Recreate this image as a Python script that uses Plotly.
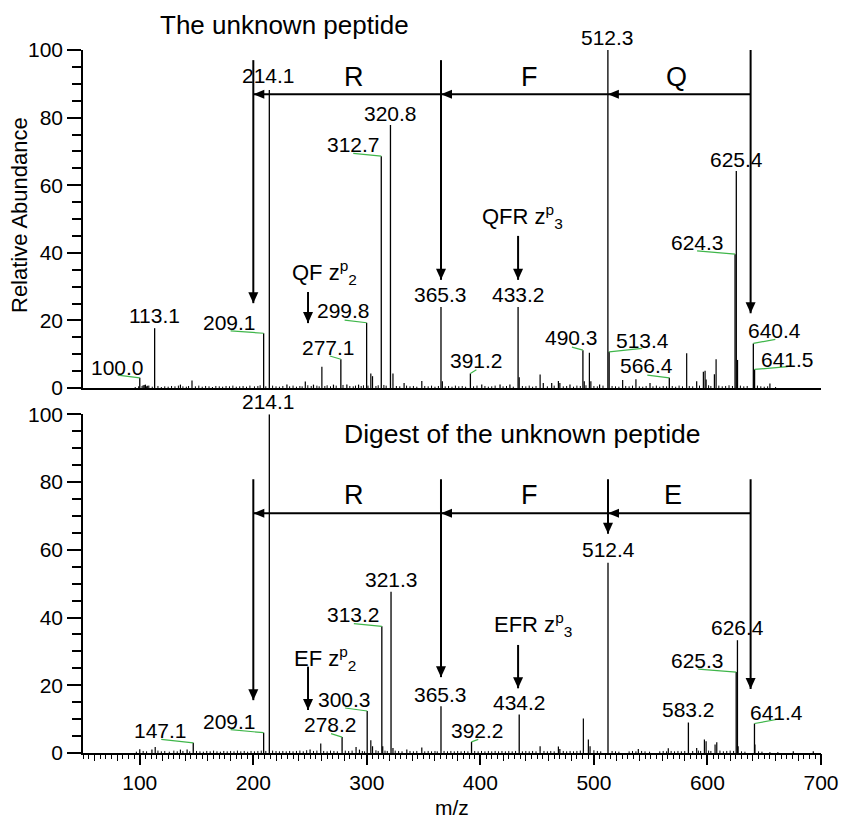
import plotly.graph_objects as go

# ---------------- data ----------------
# Top panel: "The unknown peptide"
top_label_mz = [100.0, 113.1, 209.1, 214.1, 277.1, 299.8, 312.7, 320.8, 365.3, 391.2,
                433.2, 490.3, 512.3, 513.4, 566.4, 624.3, 625.4, 640.4, 641.5]
top_label_int = [3.0, 17.7, 16.2, 88.2, 8.5, 19.3, 68.6, 77.8, 24.0, 4.3,
                 24.0, 11.2, 100.0, 10.7, 3.0, 39.6, 64.2, 13.2, 5.5]
top_label_text = ["100.0", "113.1", "209.1", "214.1", "277.1", "299.8", "312.7", "320.8", "365.3", "391.2",
                  "433.2", "490.3", "512.3", "513.4", "566.4", "624.3", "625.4", "640.4", "641.5"]

top_minor_mz = [103, 105, 107, 135.8, 146, 229.6, 245.8, 253, 260.4, 270.6, 282.4, 292.7,
                303.5, 305, 323, 332.8, 348.4, 366.5, 401.2, 417.3, 426, 434.2, 452.6, 455.4,
                462.8, 468.7, 470, 478.9, 491.5, 496, 497.3, 505, 525.3, 537, 549.4, 581.7,
                590.5, 596.4, 597.9, 598.8, 606.1, 607.6, 626.5, 655]
top_minor_int = [0.8, 1.0, 0.7, 1.0, 2.2, 1.0, 1.9, 1.0, 6.3, 1.0, 1.0, 1.0,
                 4.3, 3.5, 4.3, 1.5, 2.1, 2.0, 1.0, 1.0, 1.0, 3.2, 4.0, 1.5,
                 1.5, 2.1, 1.5, 1.0, 2.0, 10.4, 2.0, 1.0, 2.4, 2.6, 1.5, 10.3,
                 2.0, 4.8, 5.1, 2.5, 4.1, 8.5, 8.3, 1.3]

top_noise_mz = [96, 99, 102, 104, 106, 108, 111, 116, 119, 122, 125, 128, 131, 134, 138, 141, 143,
                149, 152, 155, 158, 161, 164, 167, 170, 173, 176, 179, 182, 185, 188, 191, 194, 197,
                201, 204, 206, 211, 217, 220, 223, 226, 232, 235, 238, 241, 243, 248, 251, 256, 258,
                263, 265, 268, 273, 279, 285, 288, 290, 295, 297, 301, 308, 310, 315, 317, 326, 329,
                335, 338, 341, 344, 351, 354, 357, 360, 363, 369, 372, 375, 378, 381, 384, 387, 394,
                397, 404, 407, 410, 413, 420, 423, 429, 437, 440, 443, 446, 449, 459, 465, 473, 476,
                482, 485, 488, 493, 500, 503, 508, 516, 519, 522, 528, 531, 534, 540, 543, 546, 552,
                555, 558, 561, 564, 569, 572, 575, 578, 584, 587, 593, 601, 603, 610, 613, 616, 619,
                622, 629, 632, 635, 644, 647, 650, 653, 660]
top_noise_int = [0.3, 0.5, 0.6, 0.9, 0.5, 0.7, 0.4, 0.6, 0.3, 0.5, 0.4, 0.6, 0.5, 0.7, 0.5, 0.4, 0.6,
                 0.5, 0.7, 0.4, 0.6, 0.5, 0.3, 0.6, 0.5, 0.4, 0.6, 0.5, 0.7, 0.4, 0.5, 0.6, 0.4, 0.7,
                 0.5, 0.6, 0.8, 0.5, 0.7, 0.5, 0.4, 0.6, 0.5, 0.7, 0.4, 0.6, 0.5, 0.8, 0.6, 0.7, 0.5,
                 0.6, 0.8, 0.5, 0.7, 0.9, 0.6, 0.5, 0.7, 0.6, 0.8, 0.7, 0.6, 0.8, 0.9, 0.7, 0.6, 0.5,
                 0.7, 0.5, 0.6, 0.4, 0.6, 0.5, 0.7, 0.4, 0.6, 0.5, 0.6, 0.4, 0.7, 0.5, 0.6, 0.4, 0.5,
                 0.7, 0.6, 0.4, 0.5, 0.7, 0.5, 0.6, 0.4, 0.6, 0.5, 0.7, 0.4, 0.6, 0.5, 0.7, 0.5, 0.6,
                 0.4, 0.7, 0.6, 0.8, 0.6, 0.5, 0.7, 0.6, 0.5, 0.4, 0.6, 0.5, 0.7, 0.5, 0.4, 0.6, 0.5,
                 0.7, 0.4, 0.6, 0.5, 0.6, 0.4, 0.7, 0.5, 0.6, 0.5, 0.7, 0.8, 0.6, 0.7, 0.5, 0.6, 0.8,
                 0.6, 0.7, 0.5, 0.6, 0.7, 0.5, 0.4, 0.5, 0.3]

# Bottom panel: "Digest of the unknown peptide"
bot_label_mz = [147.1, 209.1, 214.1, 278.2, 300.3, 313.2, 321.3, 365.3, 392.2, 434.2,
                512.4, 583.2, 625.3, 626.4, 641.4]
bot_label_int = [3.0, 6.0, 100.0, 4.7, 12.4, 37.4, 47.6, 13.8, 3.3, 11.4,
                 56.2, 9.0, 23.9, 33.3, 8.7]
bot_label_text = ["147.1", "209.1", "214.1", "278.2", "300.3", "313.2", "321.3", "365.3", "392.2", "434.2",
                  "512.4", "583.2", "625.3", "626.4", "641.4"]

bot_minor_mz = [100, 110.7, 113.6, 135.8, 141.7, 250, 259.4, 290.5, 293.5, 303.5, 305, 314,
                323, 335.2, 348.4, 452.6, 468.7, 470, 490.7, 495.1, 496.6, 539.1, 565.5,
                590.5, 597.3, 598.8, 606.7, 608.2, 627, 641.8, 675.6, 693.2]
bot_minor_int = [1.1, 1.0, 1.8, 1.0, 1.0, 1.0, 2.8, 1.8, 1.0, 3.75, 2.0, 2.0,
                 1.5, 1.0, 1.6, 2.0, 1.9, 1.2, 10.2, 4.0, 2.0, 1.2, 1.4,
                 1.5, 4.0, 3.5, 2.5, 3.2, 2.0, 2.5, 0.5, 0.5]

bot_noise_mz = [97, 103, 106, 116, 119, 122, 126, 130, 133, 138, 144, 150, 153, 156, 159, 162, 165,
                168, 171, 174, 177, 180, 183, 186, 189, 192, 195, 198, 201, 204, 207, 211, 217, 220,
                223, 226, 229, 232, 235, 238, 241, 244, 247, 253, 256, 262, 265, 268, 271, 274, 281,
                284, 287, 296, 298, 308, 310, 316, 318, 325, 328, 331, 338, 341, 344, 351, 354, 357,
                360, 362, 368, 371, 374, 377, 380, 383, 386, 389, 395, 398, 401, 404, 407, 410, 413,
                416, 419, 422, 425, 428, 431, 437, 440, 443, 446, 449, 456, 459, 462, 465, 473, 476,
                479, 482, 485, 488, 500, 503, 506, 516, 519, 522, 531, 534, 537, 542, 545, 549, 558,
                561, 564, 568, 571, 574, 577, 580, 587, 592, 594, 601, 603, 611, 614, 617, 620, 623,
                630, 633, 645, 648, 655, 662]
bot_noise_int = [0.4, 0.6, 0.5, 0.7, 0.5, 0.6, 0.4, 0.7, 0.5, 0.6, 0.5, 0.6, 0.5, 0.4, 0.6, 0.5, 0.7,
                 0.5, 0.4, 0.6, 0.5, 0.6, 0.5, 0.7, 0.5, 0.6, 0.4, 0.6, 0.5, 0.6, 0.7, 0.6, 0.7, 0.6,
                 0.5, 0.6, 0.5, 0.6, 0.5, 0.6, 0.7, 0.5, 0.8, 0.6, 0.7, 0.6, 0.5, 0.7, 0.6, 0.5, 0.7,
                 0.6, 0.7, 0.6, 0.5, 0.8, 0.6, 0.7, 0.6, 0.7, 0.6, 0.5, 0.6, 0.5, 0.6, 0.5, 0.6, 0.5,
                 0.6, 0.5, 0.6, 0.5, 0.6, 0.5, 0.6, 0.5, 0.6, 0.5, 0.6, 0.5, 0.6, 0.5, 0.6, 0.5, 0.6,
                 0.5, 0.6, 0.5, 0.6, 0.5, 0.6, 0.5, 0.6, 0.5, 0.6, 0.5, 0.6, 0.5, 0.6, 0.5, 0.6, 0.5,
                 0.6, 0.5, 0.6, 0.7, 0.8, 0.6, 0.5, 0.6, 0.5, 0.4, 0.5, 0.6, 0.5, 0.6, 0.5, 0.4, 0.5,
                 0.6, 0.5, 0.6, 0.5, 0.6, 0.5, 0.6, 0.6, 0.7, 0.6, 0.7, 0.6, 0.7, 0.5, 0.6, 0.7, 0.6,
                 0.5, 0.4, 0.5, 0.4, 0.3, 0.3]

# Sequence ladders (m/z positions, right to left) and residue letters
top_ladder_mz = [638.0, 512.3, 365.3, 200.0]
top_ladder_res = ["Q", "F", "R"]
bot_ladder_mz = [638.0, 512.4, 365.3, 200.0]
bot_ladder_res = ["E", "F", "R"]

# z-ion markers
top_zp = [("QF z<sup>p</sup><sub>2</sub>", 248.2), ("QFR z<sup>p</sup><sub>3</sub>", 433.2)]
bot_zp = [("EF z<sup>p</sup><sub>2</sub>", 248.2), ("EFR z<sup>p</sup><sub>3</sub>", 433.2)]

# ---------------- layout / style (positions in pixels or axis units) ----------------
FONT = "Liberation Sans, Arial, Helvetica, sans-serif"
GREEN = "#3fb64a"
LBL = 21

# label offsets (xshift, yshift px) and green leader tails (dx, dy px, screen y down) or None
top_label_pos = [(-22, 10, (-22, -2.7)), (0, 12.5, None), (-34, 11, (-33, -2.3)), (-1, 14, None),
                 (-12, 12, (-11, -3.3)), (-23, 12, (-22, -2.7)), (-28, 12, (-28, -2.7)), (0, 12, None),
                 (0, 12.5, None), (6, 12.5, (6, -3.7)), (0, 12.5, None), (-11, 13, (-11, -3)),
                 (0, 12.5, None), (33, 11, (33, -3.4)), (-23, 12, (-22, -2.7)), (-38, 11.5, (-38, -3.3)),
                 (0, 12, None), (21, 12.5, (22, -4)), (33, 10, (33, -2.7))]
bot_label_pos = [(-33, 12, (-32, -3.4)), (-34, 11.5, (-33, -3)), (-1, 13, None), (-11.5, 12.5, (-11, -3.4)),
                 (-23, 11.5, (-22, -3)), (-28, 12, (-28, -2.7)), (0, 12.5, None), (0, 12, None),
                 (6, 11, (6.7, -2.4)), (0, 11.5, None), (0, 13.5, None), (0, 13, None),
                 (-39, 11.5, (-38, -3)), (0, 13, None), (22, 11, (22, -4))]
top_res_shift = [-3, 5, 7]
bot_res_shift = [-6, 5, 7]

HEAD_DOWN = "M-5,11 L5,11 L0,0 Z"     # pixel path, tip at anchor
HEAD_LEFT = "M0,0 L11,4.5 L11,-4.5 Z"


def sticks(mz, inten):
    xs, ys = [], []
    for m, h in zip(mz, inten):
        xs += [m, m, None]
        ys += [0, h, None]
    return xs, ys


fig = go.Figure()

for (xa, ya), sets in [(("x", "y"), [(top_noise_mz, top_noise_int, 1.0), (top_minor_mz, top_minor_int, 1.2),
                                      (top_label_mz, top_label_int, 1.3)]),
                       (("x2", "y2"), [(bot_noise_mz, bot_noise_int, 1.0), (bot_minor_mz, bot_minor_int, 1.2),
                                        (bot_label_mz, bot_label_int, 1.3)])]:
    for mz, inten, w in sets:
        xs, ys = sticks(mz, inten)
        fig.add_trace(go.Scatter(x=xs, y=ys, mode="lines", xaxis=xa, yaxis=ya,
                                 line=dict(color="black", width=w), hoverinfo="skip",
                                 showlegend=False, cliponaxis=False))

# dummy trace for the medium-tick overlay axis
fig.add_trace(go.Scatter(x=[None], y=[None], xaxis="x3", yaxis="y2", showlegend=False, hoverinfo="skip"))

ann = []
shapes = []


def peak_labels(mz, inten, texts, pos, xr, yr):
    for m, h, t, (xs, ys, lead) in zip(mz, inten, texts, pos):
        ann.append(dict(x=m, y=h, xref=xr, yref=yr, text=t, showarrow=False, xshift=xs, yshift=ys,
                        xanchor="center", yanchor="middle", font=dict(size=LBL, color="black", family=FONT)))
        if lead is not None:
            shapes.append(dict(type="line", xref=xr, yref=yr, xsizemode="pixel", ysizemode="pixel",
                               xanchor=m, yanchor=h, x0=0, y0=0, x1=lead[0], y1=-lead[1],
                               line=dict(color=GREEN, width=1.2), layer="above"))


peak_labels(top_label_mz, top_label_int, top_label_text, top_label_pos, "x", "y")
peak_labels(bot_label_mz, bot_label_int, bot_label_text, bot_label_pos, "x2", "y2")


def arrow(x0, y0, x1, y1, xr, yr):
    shapes.append(dict(type="line", xref=xr, yref=yr, x0=x0, y0=y0, x1=x1, y1=y1,
                       line=dict(color="black", width=2), layer="above"))
    head = HEAD_DOWN if x0 == x1 else HEAD_LEFT
    shapes.append(dict(type="path", xref=xr, yref=yr, xsizemode="pixel", ysizemode="pixel",
                       xanchor=x1, yanchor=y1, path=head, fillcolor="black",
                       line=dict(width=0), layer="above"))


# ---- top ladder ----
LAD_T = 86.9
for i in range(3):
    arrow(top_ladder_mz[i], LAD_T, top_ladder_mz[i + 1], LAD_T, "x", "y")
    mid = (top_ladder_mz[i] + top_ladder_mz[i + 1]) / 2
    ann.append(dict(x=mid, y=92.0, xref="x", yref="y", text=top_ladder_res[i], showarrow=False,
                    xshift=top_res_shift[i], font=dict(size=27, color="black", family=FONT)))
arrow(top_ladder_mz[0], 100.0, top_ladder_mz[0], 22.1, "x", "y")
arrow(top_ladder_mz[2], 97.0, top_ladder_mz[2], 32.0, "x", "y")
arrow(top_ladder_mz[3], 97.0, top_ladder_mz[3], 25.1, "x", "y")

# ---- bottom ladder ----
LAD_B = 70.8
for i in range(3):
    arrow(bot_ladder_mz[i], LAD_B, bot_ladder_mz[i + 1], LAD_B, "x2", "y2")
    mid = (bot_ladder_mz[i] + bot_ladder_mz[i + 1]) / 2
    ann.append(dict(x=mid, y=76.2, xref="x2", yref="y2", text=bot_ladder_res[i], showarrow=False,
                    xshift=bot_res_shift[i], font=dict(size=27, color="black", family=FONT)))
arrow(bot_ladder_mz[0], 80.8, bot_ladder_mz[0], 18.9, "x2", "y2")
arrow(bot_ladder_mz[1], 80.8, bot_ladder_mz[1], 64.7, "x2", "y2")
arrow(bot_ladder_mz[2], 80.8, bot_ladder_mz[2], 22.4, "x2", "y2")
arrow(bot_ladder_mz[3], 80.8, bot_ladder_mz[3], 15.6, "x2", "y2")

# ---- z-ion markers ----
zp_top_pos = [(263.1, 34.3, 28.4, 19.2), (437.1, 50.6, 45.0, 32.0)]
zp_bot_pos = [(263.1, 28.0, 25.5, 12.7), (445.9, 37.8, 31.9, 19.1)]
for (txt, mzv), (tx, ty, a0, a1) in zip(top_zp, zp_top_pos):
    ann.append(dict(x=tx, y=ty, xref="x", yref="y", text=txt, showarrow=False,
                    font=dict(size=22, color="black", family=FONT)))
    arrow(mzv, a0, mzv, a1, "x", "y")
for (txt, mzv), (tx, ty, a0, a1) in zip(bot_zp, zp_bot_pos):
    ann.append(dict(x=tx, y=ty, xref="x2", yref="y2", text=txt, showarrow=False,
                    font=dict(size=22, color="black", family=FONT)))
    arrow(mzv, a0, mzv, a1, "x2", "y2")

# ---- titles ----
ann.append(dict(x=0.2724, y=1.036, xref="paper", yref="paper", text="The unknown peptide", showarrow=False,
                xanchor="center", yanchor="middle", font=dict(size=26, color="black", family=FONT)))
ann.append(dict(x=437.5, y=94.2, xref="x2", yref="y2", text="Digest of the unknown peptide", showarrow=False,
                font=dict(size=26.5, color="black", family=FONT)))
ann.append(dict(x=-0.087, y=0.765, xref="paper", yref="paper", text="Relative Abundance", textangle=-90,
                showarrow=False, xanchor="center", yanchor="middle",
                font=dict(size=22, color="black", family=FONT)))
ann.append(dict(x=0.5, y=-0.078, xref="paper", yref="paper", text="m/z", showarrow=False,
                xanchor="center", yanchor="middle", font=dict(size=21, color="black", family=FONT)))

yax = dict(range=[0, 100], tick0=0, dtick=20, ticks="outside", ticklen=14, tickwidth=1.5, tickcolor="black",
           showline=True, linecolor="black", linewidth=1.5, showgrid=False, zeroline=False, automargin=False,
           tickfont=dict(size=21, color="black", family=FONT),
           minor=dict(tick0=0, dtick=5, ticks="outside", ticklen=9, tickwidth=1.5, tickcolor="black",
                      showgrid=False))

fig.update_layout(
    width=841, height=819, autosize=False,
    margin=dict(l=83, r=20, t=50, b=66),
    paper_bgcolor="white", plot_bgcolor="white",
    showlegend=False,
    font=dict(family=FONT, color="black"),
    xaxis=dict(domain=[0, 1], range=[50, 700], anchor="y", showline=True, linecolor="black", linewidth=1.5,
               ticks="", showticklabels=False, showgrid=False, zeroline=False, automargin=False),
    yaxis=dict(domain=[0.5192, 1.0], anchor="x", **yax),
    xaxis2=dict(domain=[0, 1], range=[50, 700], anchor="y2", showline=True, linecolor="black", linewidth=1.5,
                tick0=0, dtick=100, ticks="outside", ticklen=10, tickwidth=1.5, tickcolor="black",
                showgrid=False, zeroline=False, automargin=False,
                tickfont=dict(size=21, color="black", family=FONT),
                minor=dict(tick0=0, dtick=5, ticks="outside", ticklen=4, tickwidth=1.2, tickcolor="black",
                           showgrid=False)),
    xaxis3=dict(domain=[0, 1], range=[50, 700], anchor="y2", overlaying="x2", showline=False,
                tick0=0, dtick=20, ticks="outside", ticklen=7, tickwidth=1.3, tickcolor="black",
                showticklabels=False, showgrid=False, zeroline=False, automargin=False),
    yaxis2=dict(domain=[0, 0.4818], anchor="x2", **yax),
    annotations=ann,
    shapes=shapes,
)

fig.write_html("out.html", config={"displayModeBar": False},
               post_script="document.body.style.margin='0px';")
